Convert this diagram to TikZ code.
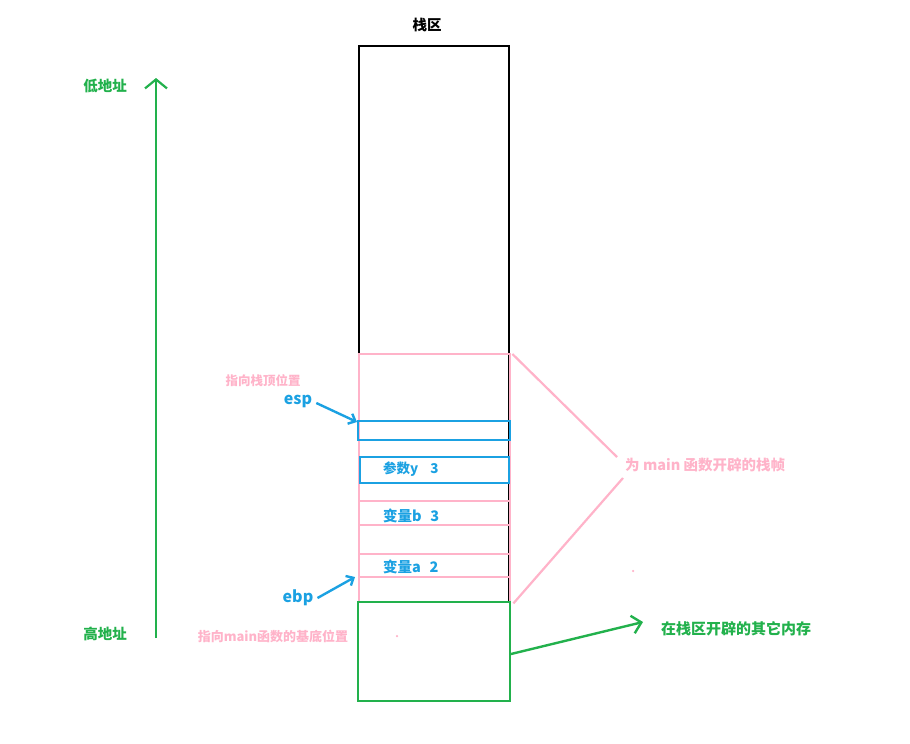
\documentclass[tikz,border=0pt]{standalone}
\usepackage{fontspec}
\setmainfont{Noto Sans CJK SC}
\usetikzlibrary{arrows.meta}
\definecolor{pk}{HTML}{FFB3C9}
\definecolor{bl}{HTML}{1BA1E2}
\definecolor{gn}{HTML}{22B14C}
\tikzset{
  cell/.style={draw, line width=2.4pt, inner sep=0pt, anchor=north west},
  lbl/.style={inner sep=0pt, font=\bfseries},
  bigtip/.style={-{Straight Barb[length=9pt,width=22pt]}},
  smalltip/.style={-{Straight Barb[length=6pt,width=11pt]}},
}
\begin{document}
\begin{tikzpicture}[x=1pt,y=-1pt]
\useasboundingbox (0,0) rectangle (910,744);
% stack
\node[cell, draw=black, minimum width=150pt, minimum height=556pt] (stack) at (358,45) {};
\node[cell, draw=pk, minimum width=151pt, minimum height=248pt] (frame) at (358,353) {};
\node[cell, draw=bl, minimum width=152pt, minimum height=19pt] (espbox) at (357,420) {};
\node[cell, draw=bl, minimum width=149pt, minimum height=26pt] (ybox) at (359,456) {};
\node[cell, draw=pk, minimum width=151pt, minimum height=24pt] (bbox) at (358,500) {};
\node[cell, draw=pk, minimum width=151pt, minimum height=23pt] (abox) at (358,553) {};
\node[cell, draw=gn, minimum width=152pt, minimum height=99pt] (gbox) at (357,601) {};
% texts in cells
\node[lbl, text=bl, font=\bfseries\fontsize{13.5}{15}\selectfont, anchor=west] (ytxt) at (383,469) {参数y\hspace{0.9em}3};
\node[lbl, text=bl, font=\bfseries\fontsize{14.5}{16}\selectfont, anchor=west] (btxt) at (383,516) {变量b\hspace{0.6em}3};
\node[lbl, text=bl, font=\bfseries\fontsize{14.5}{16}\selectfont, anchor=west] (atxt) at (383,567) {变量a\hspace{0.6em}2};
% title
\node[lbl, font=\bfseries\fontsize{14.5}{16}\selectfont] (title) at (427,25) {栈区};
% left axis
\node[lbl, text=gn, font=\bfseries\fontsize{14.5}{16}\selectfont] (low) at (105,86) {低地址};
\node[lbl, text=gn, font=\bfseries\fontsize{14.5}{16}\selectfont] (high) at (105,634) {高地址};
\coordinate (axb) at (156,638);
\coordinate (axt) at (156,78);
\draw[gn, line width=2.2pt, bigtip] (axb) -- (axt);
% esp / ebp
\node[lbl, text=pk, font=\bfseries\fontsize{12.5}{14}\selectfont] (esptxt) at (263,381) {指向栈顶位置};
\node[lbl, text=bl, font=\bfseries\fontsize{16}{18}\selectfont] (esp) at (298,401) {esp};
\coordinate (esptip) at (357,422);
\draw[bl, line width=2.4pt, smalltip] (esp.east) ++(4,2) -- (esptip);
\node[lbl, text=bl, font=\bfseries\fontsize{16}{18}\selectfont] (ebp) at (298,598) {ebp};
\coordinate (ebptip) at (355,577);
\draw[bl, line width=2.4pt, smalltip] (ebp.east) ++(4,0) -- (ebptip);
\node[lbl, text=pk, font=\bfseries\fontsize{13}{14}\selectfont] (ebptxt) at (273,636) {指向main函数的基底位置};
% pink dots
\node[circle, fill=pk, inner sep=0pt, minimum size=2.5pt] (dot1) at (397,636) {};
\node[circle, fill=pk, inner sep=0pt, minimum size=2.5pt] (dot2) at (633,571) {};
% frame brace lines
\coordinate (fr1) at (617,457);
\coordinate (fr2) at (623,478);
\draw[pk, line width=2.2pt] (frame.north east) ++(1,1) -- (fr1);
\draw[pk, line width=2.2pt] (fr2) -- ([xshift=2pt]frame.south east);
\node[lbl, text=pk, font=\bfseries\fontsize{14.5}{16}\selectfont, anchor=west] (frtxt) at (625,465) {为 main 函数开辟的栈帧};
% other memory
\coordinate (gs) at (511,654);
\coordinate (ge) at (643,622);
\draw[gn, line width=2.4pt, -{Straight Barb[length=9pt,width=18pt]}] (gs) -- (ge);
\node[lbl, text=gn, font=\bfseries\fontsize{15}{16}\selectfont, anchor=west] (gtxt) at (661,629) {在栈区开辟的其它内存};
\end{tikzpicture}
\end{document}
